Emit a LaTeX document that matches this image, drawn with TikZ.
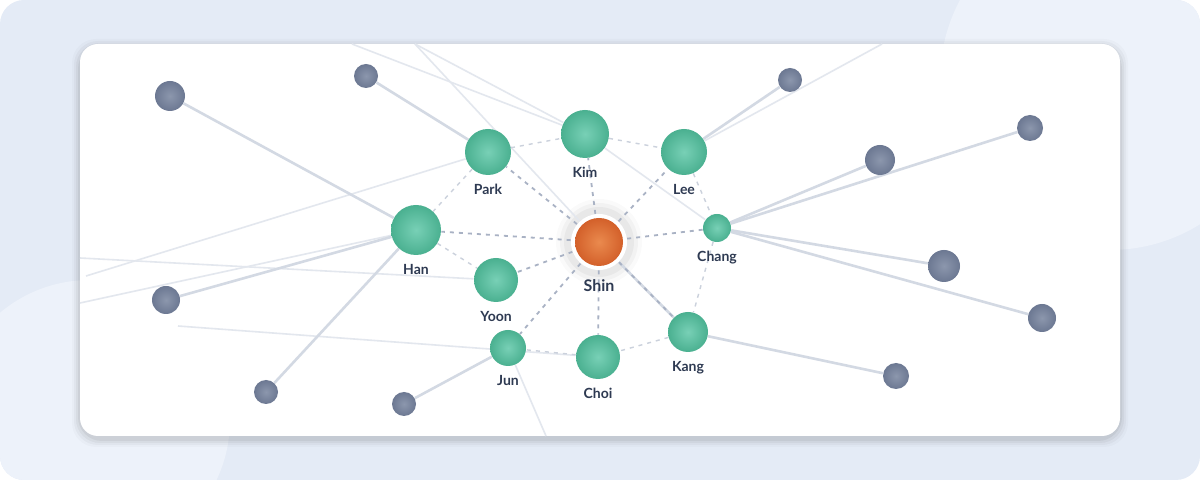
\documentclass[tikz,border=0pt]{standalone}
\usepackage{fontspec}
\setmainfont{Lato}
\usetikzlibrary{positioning,backgrounds}
\definecolor{bgblue}{HTML}{E4EBF6}
\definecolor{blobblue}{HTML}{EDF2FA}
\definecolor{linkgray}{HTML}{D3D9E3}
\definecolor{faintgray}{HTML}{E3E7EE}
\definecolor{dashgray}{HTML}{A9B2C4}
\definecolor{dashlight}{HTML}{CBD1DC}
\definecolor{peerlight}{HTML}{78D0B6}
\definecolor{peerdark}{HTML}{4AB090}
\definecolor{outerlight}{HTML}{8C97AD}
\definecolor{outerdark}{HTML}{6C7892}
\definecolor{shinlight}{HTML}{EA8A4E}
\definecolor{shindark}{HTML}{D3602A}
\definecolor{labelink}{HTML}{2E3A52}
\tikzset{
	x=0.5pt, y=-0.5pt,
	peer/.style = {circle, inner sep=0pt, inner color=peerlight, outer color=peerdark},
	outer/.style = {circle, inner sep=0pt, inner color=outerlight, outer color=outerdark},
	name label/.style = {font=\fontsize{7}{8}\selectfont\bfseries, text=labelink},
	solid link/.style = {draw=linkgray, line width=1.3pt},
	faint link/.style = {draw=faintgray, line width=0.8pt},
	core dash/.style = {draw=dashgray, line width=0.9pt, dash pattern=on 2pt off 2.5pt},
	peer dash/.style = {draw=dashlight, line width=0.7pt, dash pattern=on 2pt off 2.5pt},
}
\begin{document}
\begin{tikzpicture}
	\useasboundingbox (0,0) rectangle (1200,480);
	% background
	\begin{scope}[on background layer]
		\fill[bgblue, rounded corners=12pt] (0,0) rectangle (1200,480);
		\begin{scope}
			\clip[rounded corners=12pt] (0,0) rectangle (1200,480);
			\fill[blobblue] (1110,80) circle (170);
			\fill[blobblue] (90,420) circle (140);
		\end{scope}
		\foreach \s/\o in {8/0.02,6/0.03,4/0.04,2/0.05}
			\fill[black, opacity=\o, rounded corners=12pt] (80-\s,44-\s+3) rectangle (1120+\s,436+\s+3);
		\fill[white, rounded corners=9pt] (80,44) rectangle (1120,436);
		\foreach \s/\o in {16/0.02,12/0.03,8/0.04}
			\fill[black, opacity=\o] (599,242) circle (27+\s);
	\end{scope}

	% nodes
	\node[circle, inner sep=0pt, minimum size=28pt, fill=white] at (599,242) (shinring) {};
	\node[circle, inner sep=0pt, minimum size=24pt, inner color=shinlight, outer color=shindark] at (599,242) (shin) {};
	\node[peer, minimum size=24pt] at (585,134) (kim) {};
	\node[peer, minimum size=23pt] at (488,152) (park) {};
	\node[peer, minimum size=23pt] at (684,152) (lee) {};
	\node[peer, minimum size=25pt] at (416,230) (han) {};
	\node[peer, minimum size=22pt] at (496,280) (yoon) {};
	\node[peer, minimum size=14pt] at (717,228) (chang) {};
	\node[peer, minimum size=20pt] at (688,332) (kang) {};
	\node[peer, minimum size=22pt] at (598,357) (choi) {};
	\node[peer, minimum size=18pt] at (508,348) (jun) {};

	\node[outer, minimum size=15pt] at (170,96) (o1) {};
	\node[outer, minimum size=12pt] at (366,76) (o2) {};
	\node[outer, minimum size=12pt] at (790,80) (o3) {};
	\node[outer, minimum size=13pt] at (1030,128) (o4) {};
	\node[outer, minimum size=15pt] at (880,160) (o5) {};
	\node[outer, minimum size=16pt] at (944,266) (o6) {};
	\node[outer, minimum size=14pt] at (1042,318) (o7) {};
	\node[outer, minimum size=13pt] at (896,376) (o8) {};
	\node[outer, minimum size=14pt] at (166,300) (o9) {};
	\node[outer, minimum size=12pt] at (266,392) (o10) {};
	\node[outer, minimum size=12pt] at (404,404) (o11) {};

	% far ends of the faint lines
	\coordinate (f1) at (352,44);
	\coordinate (f2) at (415,44);
	\coordinate (f3) at (882,44);
	\coordinate (f4) at (86,276);
	\coordinate (f5) at (80,303);
	\coordinate (f6) at (80,258);
	\coordinate (f7) at (178,326);
	\coordinate (f8) at (546,436);

	\begin{scope}[on background layer]
		% faint lines
		\draw[faint link] (f1) -- (kim);
		\draw[faint link] (f2) -- (kim);
		\draw[faint link] (f2) -- (shinring);
		\draw[faint link] (kim) -- (chang);
		\draw[faint link] (f3) -- (lee);
		\draw[faint link] (f4) -- (park);
		\draw[faint link] (f5) -- (han);
		\draw[faint link] (f6) -- (yoon);
		\draw[faint link] (f7) -- (choi);
		\draw[faint link] (f8) -- (jun);

		% solid links
		\draw[solid link] (o1) -- (han);
		\draw[solid link] (o2) -- (park);
		\draw[solid link] (o3) -- (lee);
		\draw[solid link] (o4) -- (chang);
		\draw[solid link] (o5) -- (chang);
		\draw[solid link] (o6) -- (chang);
		\draw[solid link] (o7) -- (chang);
		\draw[solid link] (o8) -- (kang);
		\draw[solid link] (o9) -- (han);
		\draw[solid link] (o10) -- (han);
		\draw[solid link] (o11) -- (jun);
		\draw[solid link] (shinring) -- (kang);

		% dashed links
		\foreach \p in {kim,park,lee,han,yoon,chang,kang,choi,jun}
			\draw[core dash] (shinring) -- (\p);
		\draw[peer dash] (park) -- (kim);
		\draw[peer dash] (kim) -- (lee);
		\draw[peer dash] (park) -- (han);
		\draw[peer dash] (han) -- (yoon);
		\draw[peer dash] (lee) -- (chang);
		\draw[peer dash] (chang) -- (kang);
		\draw[peer dash] (kang) -- (choi);
		\draw[peer dash] (choi) -- (jun);
	\end{scope}

	% labels
	\node[name label, font=\fontsize{8}{9}\selectfont\bfseries, below=1pt of shinring] (shinlbl) {Shin};
	\node[name label, below=1pt of kim] (kimlbl) {Kim};
	\node[name label, below=1pt of park] (parklbl) {Park};
	\node[name label, below=1pt of lee] (leelbl) {Lee};
	\node[name label, below=1pt of han] (hanlbl) {Han};
	\node[name label, below=1pt of yoon] (yoonlbl) {Yoon};
	\node[name label, below=1pt of chang] (changlbl) {Chang};
	\node[name label, below=1pt of kang] (kanglbl) {Kang};
	\node[name label, below=1pt of choi] (choilbl) {Choi};
	\node[name label, below=1pt of jun] (junlbl) {Jun};
\end{tikzpicture}
\end{document}
